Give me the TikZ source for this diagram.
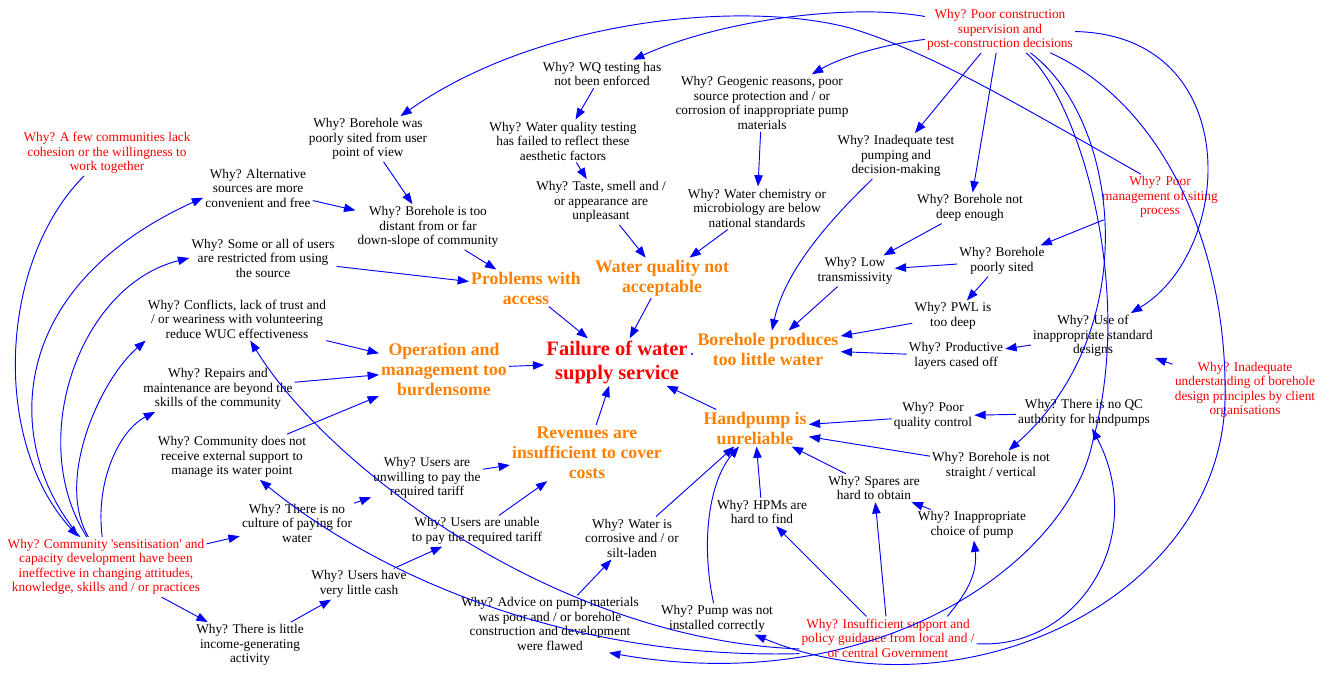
\documentclass[tikz,border=0pt]{standalone}
\usepackage{fontspec}
\setmainfont{Liberation Serif}
\usetikzlibrary{arrows.meta,calc}
\definecolor{eblue}{RGB}{0,0,255}
\definecolor{orng}{RGB}{255,128,0}
\definecolor{rd}{RGB}{255,0,0}
\begin{document}
\begin{tikzpicture}[x=0.75pt,y=-0.75pt,
 whybox/.style={align=center,inner sep=1.5pt,font=\fontsize{10}{10.9}\selectfont,text=black},
 rootbox/.style={whybox,text=rd},
 mainbox/.style={align=center,inner sep=1.5pt,font=\fontsize{13.3}{15}\selectfont\bfseries,text=orng},
 failbox/.style={align=center,inner sep=1.5pt,font=\fontsize{15.4}{18}\selectfont\bfseries,text=rd},
 link/.style={draw=eblue,line width=0.7pt,-{Triangle[length=8.5pt,width=6.3pt]}}]
\useasboundingbox (0,0) rectangle (1332,679);

% ---------- nodes ----------
\node[rootbox] (pc) at (1000,30) {Why? Poor construction\\supervision and\\post-construction decisions};
\node[whybox] (wqe) at (602,74) {Why? WQ testing has\\not been enforced};
\node[whybox] (geo) at (762,103) {Why? Geogenic reasons, poor\\source protection and / or\\corrosion of inappropriate pump\\materials};
\node[whybox] (bpu) at (368,139) {Why? Borehole was\\poorly sited from user\\point of view};
\node[rootbox] (afew) at (107,153) {Why? A few communities lack\\cohesion or the willingness to\\work together};
\node[whybox] (wqf) at (563,141) {Why? Water quality testing\\has failed to reflect these\\aesthetic factors};
\node[whybox] (itp) at (896,156) {Why? Inadequate test\\pumping and\\decision-making};
\node[whybox] (alt) at (258,188) {Why? Alternative\\sources are more\\convenient and free};
\node[rootbox] (pms) at (1160,197) {Why? Poor\\management of siting\\process};
\node[whybox] (taste) at (601,202) {Why? Taste, smell and /\\or appearance are\\unpleasant};
\node[whybox] (wchem) at (757,208) {Why? Water chemistry or\\microbiology are below\\national standards};
\node[whybox] (btd) at (428,227) {Why? Borehole is too\\distant from or far\\down-slope of community};
\node[whybox] (bnd) at (970,208) {Why? Borehole not\\deep enough};
\node[whybox] (sur) at (263,258) {Why? Some or all of users\\are restricted from using\\the source};
\node[whybox] (bps) at (1002,261) {Why? Borehole\\poorly sited};
\node[whybox] (lowt) at (855,271) {Why? Low\\transmissivity};
\node[mainbox] (pwa) at (526,288) {Problems with\\access};
\node[mainbox] (wqna) at (662,278) {Water quality not\\acceptable};
\node[whybox] (pwl) at (953,316) {Why? PWL is\\too deep};
\node[whybox] (uisd) at (1093,336) {Why? Use of\\inappropriate standard\\designs};
\node[whybox] (conf) at (237,319) {Why? Conflicts, lack of trust and\\/ or weariness with volunteering\\reduce WUC effectiveness};
\node[mainbox] (bptl) at (768,349) {Borehole produces\\too little water};
\node[failbox] (fail) at (617,362) {Failure of water\\supply service};
\node[mainbox] (omb) at (444,369) {Operation and\\management too\\burdensome};
\node[whybox] (plco) at (956,356) {Why? Productive\\layers cased off};
\node[whybox] (rep) at (218,389) {Why? Repairs and\\maintenance are beyond the\\skills of the community};
\node[rootbox] (iu) at (1245,390) {Why? Inadequate\\understanding of borehole\\design principles by client\\organisations};
\node[mainbox] (hpu) at (755,428) {Handpump is\\unreliable};
\node[whybox] (pqc) at (933,416) {Why? Poor\\quality control};
\node[whybox] (qca) at (1084,413) {Why? There is no QC\\authority for handpumps};
\node[whybox] (cnes) at (232,457) {Why? Community does not\\receive external support to\\manage its water point};
\node[mainbox] (rev) at (587,453) {Revenues are\\insufficient to cover\\costs};
\node[whybox] (bnsv) at (991,466) {Why? Borehole is not\\straight / vertical};
\node[whybox] (uup) at (427,478) {Why? Users are\\unwilling to pay the\\required tariff};
\node[whybox] (spares) at (874,488) {Why? Spares are\\hard to obtain};
\node[whybox] (ncp) at (297,523) {Why? There is no\\culture of paying for\\water};
\node[whybox] (uun) at (477,531) {Why? Users are unable\\to pay the required tariff};
\node[whybox] (wcs) at (632,538) {Why? Water is\\corrosive and / or\\silt-laden};
\node[whybox] (hpm) at (762,512) {Why? HPMs are\\hard to find};
\node[whybox] (icp) at (972,525) {Why? Inappropriate\\choice of pump};
\node[rootbox] (cs) at (106,567) {Why? Community \textquotesingle sensitisation\textquotesingle{} and\\capacity development have been\\ineffective in changing attitudes,\\knowledge, skills and / or practices};
\node[whybox] (ulc) at (359,584) {Why? Users have\\very little cash};
\node[whybox] (apm) at (550,624) {Why? Advice on pump materials\\was poor and / or borehole\\construction and development\\were flawed};
\node[whybox] (pnic) at (717,619) {Why? Pump was not\\installed correctly};
\node[rootbox] (isp) at (888,638) {Why? Insufficient support and\\policy guidance from local and /\\or central Government};
\node[whybox] (lig) at (250,645) {Why? There is little\\income-generating\\activity};

% ---------- straight connectors ----------
\draw[link] (wqe) -- (wqf);
\draw[link] (wqf) -- (taste);
\draw[link] (taste) -- (wqna);
\draw[link] (wchem) -- (wqna);
\draw[link] (geo) -- (wchem);
\draw[link] (wqna) -- (fail);
\draw[link] (pwa) -- (fail);
\draw[link] (bpu) -- (btd);
\draw[link] (alt) -- (btd);
\draw[link] (btd) -- (pwa);
\draw[link] (sur) -- (pwa);
\draw[link] (conf) -- (omb);
\draw[link] (rep) -- (omb);
\draw[link] (cnes) -- (omb);
\draw[link] (omb) -- (fail);
\draw[link] (rev) -- (fail);
\draw[link] (hpu) -- (fail);
\draw[link] (bps) -- (lowt);
\draw[link] (bps) -- (pwl);
\draw[link] (bnd) -- (lowt);
\draw[link] (lowt) -- (bptl);
\draw[link] (pwl) -- (bptl);
\draw[link] (plco) -- (bptl);
\draw[link] (uisd) -- (plco);
\draw[link] (iu) -- (uisd);
\draw[link] (pc) -- (itp);
\draw[link] (pc) -- (bnd);
\draw[link] (pms) -- (bps);
\draw[link] (qca) -- (pqc);
\draw[link] (pqc) -- (hpu);
\draw[link] (bnsv) -- (hpu);
\draw[link] (spares) -- (hpu);
\draw[link] (hpm) -- (hpu);
\draw[link] (wcs) -- (hpu);
\draw[link] (icp) -- (spares);
\draw[link] (apm) -- (wcs);
\draw[link] (isp) -- (hpm);
\draw[link] (isp) -- (spares);
\draw[link] (uup) -- (rev);
\draw[link] (uun) -- (rev);
\draw[link] (ncp) -- (uup);
\draw[link] (ulc) -- (uun);
\draw[link] (lig) -- (ulc);
\draw[link] (cs) -- (lig);
\draw[link] (cs) -- (ncp);

% ---------- curved connectors ----------
\draw[link] (pc) .. controls (850,3) and (720,20) .. (wqe);
\draw[link] (pc) .. controls (880,45) and (840,58) .. (geo);
\draw[link] (pc) .. controls (1245,35) and (1235,250) .. (uisd);
\draw[link] (pc) .. controls (1080,100) and (1135,290) .. (1093,440) .. controls (1070,560) and (880,700) .. (apm.-26);
\draw[link] (pc) .. controls (1120,120) and (1145,330) .. (bnsv);
\draw[link] (pc) .. controls (1165,105) and (1228,250) .. (1225,400) .. controls (1220,600) and (960,720) .. (pnic);
\draw[link] (isp) .. controls (1075,650) and (1150,540) .. (qca);
\draw[link] (isp.20) .. controls (965,595) and (978,575) .. (icp);
\draw[link] (isp.187) .. controls (560,640) and (330,470) .. (conf);
\draw[link] (isp.190) .. controls (560,660) and (370,570) .. (cnes);
\draw[link] (pnic) .. controls (700,540) and (710,480) .. (hpu);
\draw[link] (afew) .. controls (0,260) and (-10,440) .. (cs);
\draw[link] (cs) .. controls (5,450) and (0,290) .. (alt.190);
\draw[link] (cs) .. controls (25,440) and (80,285) .. (sur.west);
\draw[link] (cs) .. controls (55,480) and (100,380) .. (conf.south west);
\draw[link] (cs) .. controls (95,480) and (120,430) .. (rep.200);
\draw[link] (pms.130) .. controls (1010,100) and (930,52) .. (850,28) .. controls (745,0) and (540,18) .. (bpu);
\draw[link] (itp) .. controls (830,220) and (785,270) .. (bptl);

\fill[eblue] (692,354) circle (0.9pt);
\end{tikzpicture}
\end{document}
